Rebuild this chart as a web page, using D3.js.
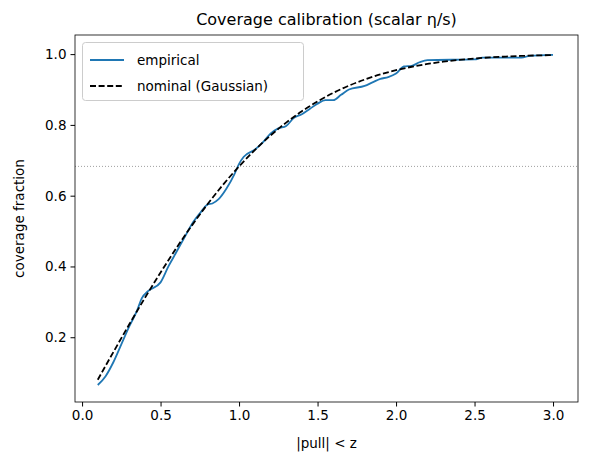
<!DOCTYPE html><html><head><meta charset="utf-8"><script src="https://d3js.org/d3.v7.min.js"></script>
<style>body{margin:0;background:#fff}text{font-family:"DejaVu Sans",sans-serif}</style></head><body><svg id="c" width="589" height="468"></svg>
<script>
const empZ=[0.10,0.15,0.20,0.25,0.30,0.35,0.38,0.42,0.50,0.55,0.60,0.65,0.70,0.75,0.80,0.83,0.87,0.92,0.97,1.00,1.03,1.10,1.15,1.20,1.25,1.30,1.35,1.40,1.45,1.50,1.55,1.60,1.65,1.70,1.80,1.85,1.90,1.95,2.00,2.05,2.10,2.15,2.20,2.50,2.55,2.80,2.85,3.00];
const empV=[0.065,0.09,0.13,0.18,0.23,0.275,0.31,0.33,0.355,0.40,0.44,0.48,0.52,0.55,0.575,0.578,0.59,0.62,0.66,0.69,0.71,0.73,0.75,0.775,0.79,0.797,0.82,0.83,0.845,0.86,0.87,0.87,0.885,0.90,0.91,0.92,0.93,0.935,0.945,0.965,0.967,0.977,0.983,0.985,0.99,0.99,0.995,0.998];
const nomZ=[0.1,0.2,0.3,0.4,0.5,0.6,0.7,0.8,0.9,1.0,1.1,1.2,1.3,1.4,1.5,1.6,1.7,1.8,1.9,2.0,2.1,2.2,2.3,2.4,2.5,2.6,2.7,2.8,2.9,3.0];
const nomV=[0.0797,0.1585,0.2358,0.3108,0.3829,0.4515,0.5161,0.5763,0.6319,0.6827,0.7287,0.7699,0.8064,0.8385,0.8664,0.8904,0.9109,0.9281,0.9426,0.9545,0.9643,0.9722,0.9786,0.9836,0.9876,0.9907,0.9931,0.9949,0.9963,0.9973];
const xTicks=[0.0,0.5,1.0,1.5,2.0,2.5,3.0];
const yTicks=[0.2,0.4,0.6,0.8,1.0];
const refLevel=0.6827;
const L=75,R=578,T=35,B=402;
const svg=d3.select("#c");
const x=d3.scaleLinear().domain([-0.045,3.159]).range([L,R]);
const y=d3.scaleLinear().domain([0.017,1.054]).range([B,T]);
svg.append("g").attr("transform",`translate(0,${B})`).call(d3.axisBottom(x).tickValues(xTicks).tickFormat(d3.format(".1f")).tickSizeOuter(0).tickSize(4.5).tickPadding(4)).call(g=>g.select(".domain").remove());
svg.append("g").attr("transform",`translate(${L},0)`).call(d3.axisLeft(y).tickValues(yTicks).tickFormat(d3.format(".1f")).tickSizeOuter(0).tickSize(4.5).tickPadding(4)).call(g=>g.select(".domain").remove());
svg.selectAll(".tick text").attr("font-size",13.5).attr("fill","#000").style("font-family","DejaVu Sans");
svg.selectAll(".tick line").attr("stroke","#000");
svg.append("line").attr("x1",L).attr("x2",R).attr("y1",y(refLevel)).attr("y2",y(refLevel)).attr("stroke","#888").attr("stroke-width",0.8).attr("stroke-dasharray","1,2");
const line=d3.line().x(d=>x(d[0])).y(d=>y(d[1])).curve(d3.curveMonotoneX);
svg.append("path").datum(empZ.map((z,i)=>[z,empV[i]])).attr("d",line).attr("fill","none").attr("stroke","#1f77b4").attr("stroke-width",1.8);
svg.append("path").datum(nomZ.map((z,i)=>[z,nomV[i]])).attr("d",line).attr("fill","none").attr("stroke","#000").attr("stroke-width",1.8).attr("stroke-dasharray","6,2.6");
svg.append("rect").attr("x",L).attr("y",T).attr("width",R-L).attr("height",B-T).attr("fill","none").attr("stroke","#000").attr("stroke-width",0.8);
svg.append("text").attr("x",(L+R)/2).attr("y",25).attr("text-anchor","middle").attr("font-size",16).text("Coverage calibration (scalar η/s)");
svg.append("text").attr("x",(L+R)/2).attr("y",448).attr("text-anchor","middle").attr("font-size",13.5).text("|pull| < z");
svg.append("text").attr("transform",`translate(24,${(T+B)/2}) rotate(-90)`).attr("text-anchor","middle").attr("font-size",13.5).text("coverage fraction");
const lg=svg.append("g");
lg.append("rect").attr("x",82.5).attr("y",42.5).attr("width",221).attr("height",58).attr("rx",3).attr("fill","#fff").attr("stroke","#ccc");
lg.append("line").attr("x1",90).attr("x2",124).attr("y1",60).attr("y2",60).attr("stroke","#1f77b4").attr("stroke-width",1.8);
lg.append("line").attr("x1",90).attr("x2",124).attr("y1",86).attr("y2",86).attr("stroke","#000").attr("stroke-width",1.8).attr("stroke-dasharray","6,2.6");
lg.append("text").attr("x",137).attr("y",65).attr("font-size",13.5).text("empirical");
lg.append("text").attr("x",137).attr("y",91).attr("font-size",13.5).text("nominal (Gaussian)");
</script></body></html>
